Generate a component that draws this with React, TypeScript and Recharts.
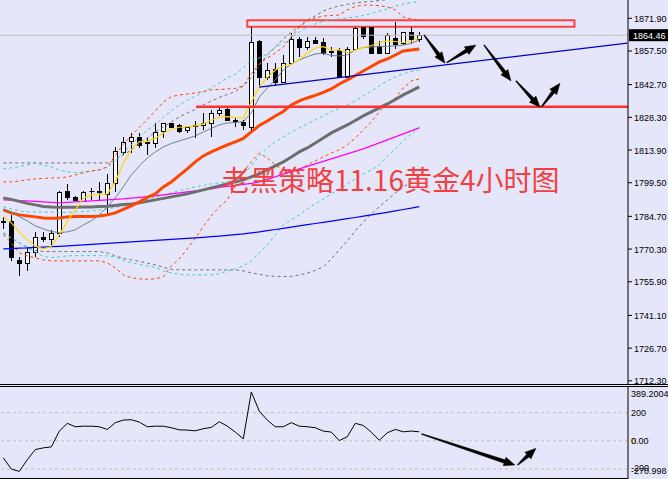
import React from 'react';
import { ComposedChart, Bar, Line, XAxis, YAxis, ReferenceLine, ReferenceArea } from 'recharts';

// ---------- candles (index 0..52), 4-hour gold ----------
const openP = [1782.4, 1782.85, 1765.55, 1764.35, 1769.2, 1775.8, 1774.6, 1777.3, 1796.0, 1793.4, 1791.65, 1795.7, 1795.4, 1794.6, 1799.3, 1813.2, 1818.05, 1819.5, 1817.0, 1816.9, 1822.45, 1825.7, 1824.95, 1822.75, 1824.7, 1824.8, 1826.0, 1830.1, 1831.85, 1827.1, 1826.3, 1824.2, 1862.05, 1846.2, 1849.45, 1844.0, 1852.1, 1862.65, 1859.4, 1862.35, 1861.6, 1857.1, 1857.95, 1845.95, 1858.25, 1867.9, 1868.2, 1859.7, 1856.75, 1863.1, 1860.9, 1865.75, 1862.8];
const highP = [1784.6, 1785.35, 1766.75, 1771.4, 1778.0, 1778.0, 1778.5, 1796.0, 1799.0, 1793.7, 1796.0, 1797.1, 1800.0, 1803.4, 1815.4, 1819.5, 1821.3, 1821.3, 1819.1, 1825.95, 1826.0, 1826.0, 1825.4, 1824.5, 1826.85, 1830.1, 1831.55, 1832.7, 1832.3, 1827.9, 1827.15, 1868.2, 1862.35, 1852.1, 1852.1, 1855.75, 1865.3, 1863.8, 1863.8, 1863.5, 1863.1, 1859.4, 1858.7, 1859.4, 1867.9, 1868.2, 1868.2, 1862.05, 1865.3, 1870.4, 1866.0, 1868.2, 1866.0];
const lowP = [1779.0, 1765.25, 1758.5, 1760.8, 1767.0, 1773.6, 1771.4, 1775.8, 1791.95, 1791.65, 1791.2, 1791.95, 1791.95, 1785.3, 1795.6, 1811.75, 1812.75, 1814.7, 1811.75, 1814.7, 1819.1, 1823.5, 1821.55, 1821.3, 1819.1, 1822.75, 1819.8, 1828.9, 1826.85, 1823.95, 1822.75, 1822.75, 1841.55, 1844.75, 1842.1, 1843.3, 1851.35, 1854.75, 1857.95, 1860.9, 1855.75, 1854.75, 1845.5, 1845.5, 1857.95, 1862.65, 1856.5, 1856.5, 1856.2, 1858.25, 1860.15, 1861.15, 1861.6];
const closeP = [1782.6, 1766.75, 1764.35, 1769.2, 1775.5, 1774.6, 1777.3, 1795.6, 1793.1, 1791.95, 1795.3, 1795.9, 1796.0, 1799.3, 1813.65, 1817.6, 1819.5, 1816.15, 1817.3, 1822.0, 1825.7, 1823.95, 1822.45, 1823.95, 1824.9, 1826.0, 1830.1, 1831.55, 1827.15, 1826.7, 1824.8, 1861.35, 1846.2, 1849.15, 1844.0, 1852.1, 1862.65, 1859.4, 1862.05, 1861.15, 1856.5, 1857.65, 1845.95, 1858.25, 1867.5, 1864.1, 1856.75, 1856.5, 1864.55, 1860.6, 1865.75, 1862.65, 1864.45];

// ---------- moving averages ----------
const maYellow = [1784.6, 1781.83, 1777.9, 1774.35, 1771.71, 1770.26, 1771.4, 1776.55, 1782.4, 1787.55, 1792.7, 1794.15, 1794.28, 1794.59, 1800.0, 1808.1, 1813.95, 1817.6, 1817.6, 1819.1, 1821.3, 1823.06, 1823.94, 1824.2, 1824.51, 1825.39, 1827.15, 1828.34, 1828.6, 1828.34, 1827.9, 1835.07, 1841.67, 1845.85, 1849.15, 1850.91, 1851.57, 1853.77, 1856.63, 1858.83, 1859.4, 1857.95, 1857.95, 1856.85, 1857.95, 1858.96, 1859.93, 1861.03, 1861.91, 1861.69, 1861.25, 1861.91, 1863.1];
const maSlate = [1787.99, 1786.67, 1784.47, 1782.71, 1780.51, 1779.19, 1778.0, 1777.56, 1777.87, 1778.75, 1780.95, 1782.71, 1785.35, 1788.87, 1792.83, 1797.67, 1802.95, 1806.91, 1810.43, 1813.07, 1815.27, 1816.81, 1817.91, 1819.01, 1820.11, 1821.87, 1823.41, 1824.95, 1825.83, 1826.05, 1826.4, 1830.23, 1837.27, 1841.23, 1844.75, 1849.15, 1851.79, 1853.55, 1855.0, 1856.19, 1856.5, 1855.53, 1855.31, 1855.75, 1857.95, 1859.05, 1859.27, 1859.4, 1859.58, 1859.71, 1860.15, 1860.81, 1862.35];
const maOrange = [1787.55, 1786.23, 1785.35, 1784.91, 1784.47, 1784.03, 1783.9, 1784.03, 1784.47, 1784.6, 1784.6, 1784.69, 1784.91, 1785.35, 1786.23, 1787.77, 1789.31, 1791.07, 1793.05, 1794.59, 1797.67, 1799.87, 1802.73, 1805.59, 1808.67, 1811.31, 1813.07, 1814.61, 1816.15, 1817.47, 1819.01, 1821.87, 1824.73, 1826.71, 1828.91, 1830.89, 1833.75, 1835.51, 1836.83, 1837.93, 1839.25, 1840.79, 1842.99, 1844.75, 1846.73, 1848.71, 1850.69, 1852.67, 1853.99, 1855.75, 1857.51, 1857.95, 1858.39];
const maDimgray = [1792.83, 1792.17, 1791.29, 1790.41, 1789.75, 1789.09, 1788.87, 1788.74, 1788.74, 1788.74, 1788.87, 1788.87, 1789.0, 1789.18, 1789.53, 1789.88, 1790.19, 1790.63, 1791.29, 1791.95, 1792.61, 1793.27, 1793.93, 1794.59, 1795.47, 1796.35, 1797.23, 1798.11, 1798.99, 1799.87, 1800.75, 1802.07, 1803.39, 1805.15, 1806.91, 1808.67, 1810.87, 1813.07, 1814.83, 1817.03, 1819.23, 1821.43, 1823.19, 1824.95, 1826.93, 1828.91, 1830.67, 1832.43, 1834.19, 1836.17, 1838.15, 1839.91, 1841.67];
const maMagenta = [1791.95, 1791.82, 1791.64, 1791.51, 1791.29, 1791.07, 1790.85, 1790.63, 1790.85, 1791.07, 1791.29, 1791.51, 1791.73, 1791.95, 1792.17, 1792.39, 1792.7, 1793.05, 1793.4, 1793.71, 1794.15, 1794.59, 1795.03, 1795.47, 1795.91, 1796.35, 1796.79, 1797.45, 1797.89, 1798.33, 1798.77, 1799.21, 1799.87, 1800.97, 1802.07, 1803.39, 1804.49, 1805.59, 1806.69, 1807.79, 1808.89, 1809.99, 1811.09, 1812.19, 1813.29, 1814.39, 1815.71, 1817.03, 1818.35, 1819.67, 1820.99, 1822.31, 1823.63];
const maBlue = [1770.39, 1770.52, 1770.7, 1770.83, 1771.05, 1771.18, 1771.36, 1771.53, 1771.71, 1771.93, 1772.15, 1772.37, 1772.59, 1772.81, 1773.03, 1773.25, 1773.47, 1773.69, 1773.91, 1774.13, 1774.35, 1774.57, 1774.79, 1775.01, 1775.23, 1775.49, 1775.76, 1776.02, 1776.33, 1776.68, 1776.99, 1777.43, 1777.87, 1778.4, 1778.93, 1779.45, 1779.98, 1780.51, 1781.04, 1781.57, 1782.09, 1782.62, 1783.15, 1783.68, 1784.21, 1784.78, 1785.35, 1785.92, 1786.49, 1787.11, 1787.73, 1788.34, 1788.96];

// ---------- band envelopes (dotted) ----------
const bandOrangeUp = [1799.87, 1799.87, 1800.31, 1800.75, 1801.19, 1801.41, 1801.63, 1801.63, 1802.07, 1802.95, 1803.83, 1804.71, 1805.15, 1806.47, 1811.53, 1816.37, 1820.33, 1823.85, 1827.37, 1831.11, 1835.07, 1837.4, 1838.15, 1838.59, 1839.03, 1839.69, 1840.35, 1840.57, 1840.79, 1841.01, 1842.11, 1847.39, 1851.79, 1854.43, 1856.63, 1859.27, 1863.67, 1868.07, 1870.71, 1872.03, 1872.91, 1873.13, 1873.35, 1875.55, 1877.09, 1877.75, 1877.66, 1877.44, 1876.87, 1875.55, 1872.47, 1871.59, 1871.15];
const bandOrangeLow = [1776.55, 1773.03, 1768.63, 1767.31, 1766.43, 1765.55, 1765.11, 1765.11, 1765.11, 1765.11, 1765.11, 1765.11, 1765.11, 1764.23, 1762.03, 1758.95, 1757.63, 1757.19, 1756.97, 1757.19, 1758.07, 1762.91, 1765.99, 1770.39, 1775.23, 1780.2, 1784.91, 1788.87, 1791.95, 1798.11, 1804.27, 1808.67, 1812.63, 1810.43, 1807.35, 1805.15, 1804.27, 1805.15, 1807.35, 1809.11, 1810.87, 1812.63, 1813.95, 1816.15, 1819.23, 1822.75, 1826.27, 1830.67, 1834.19, 1836.83, 1841.23, 1844.31, 1845.19];
const bandCyanUp = [1805.59, 1806.03, 1806.6, 1807.35, 1808.01, 1807.35, 1806.47, 1805.15, 1804.27, 1803.96, 1804.27, 1804.71, 1805.15, 1806.47, 1809.11, 1813.07, 1816.15, 1819.67, 1822.75, 1824.95, 1828.47, 1831.11, 1833.75, 1835.95, 1837.49, 1839.47, 1841.23, 1843.43, 1845.63, 1847.17, 1850.03, 1853.55, 1854.43, 1856.19, 1859.27, 1861.03, 1863.23, 1865.87, 1868.07, 1869.39, 1870.49, 1871.15, 1871.59, 1872.03, 1872.47, 1873.13, 1874.01, 1875.11, 1875.99, 1877.31, 1878.19, 1878.85, 1879.29];
const bandCyanMid = [1788.87, 1787.99, 1787.11, 1786.67, 1786.67, 1786.67, 1786.54, 1786.45, 1786.45, 1786.67, 1786.89, 1787.11, 1787.55, 1787.99, 1788.65, 1789.31, 1790.19, 1791.07, 1792.17, 1793.27, 1794.15, 1795.03, 1795.91, 1796.79, 1797.67, 1798.33, 1798.99, 1799.43, 1799.87, 1801.19, 1803.39, 1806.91, 1811.31, 1814.83, 1817.47, 1819.67, 1821.87, 1823.63, 1825.39, 1827.15, 1828.91, 1830.67, 1832.21, 1833.75, 1835.51, 1837.71, 1839.91, 1842.11, 1844.31, 1846.07, 1847.39, 1848.49, 1849.15];
const bandCyanLow = [1776.99, 1775.23, 1773.03, 1771.27, 1769.07, 1767.0, 1766.56, 1766.87, 1767.31, 1767.44, 1767.44, 1767.44, 1767.44, 1767.31, 1766.87, 1765.33, 1764.23, 1763.57, 1762.91, 1762.25, 1760.71, 1759.83, 1759.17, 1758.95, 1758.95, 1758.95, 1758.95, 1759.39, 1760.71, 1761.59, 1762.91, 1765.11, 1768.63, 1772.15, 1776.55, 1780.95, 1783.15, 1785.35, 1787.99, 1790.19, 1792.39, 1794.59, 1796.79, 1798.99, 1801.19, 1803.39, 1805.15, 1807.35, 1811.31, 1814.39, 1817.91, 1820.99, 1824.07];
const bandGrayUp = [1808.23, 1808.23, 1808.23, 1808.23, 1808.23, 1808.23, 1808.23, 1808.23, 1808.23, 1808.23, 1808.23, 1808.23, 1808.23, 1808.23, 1809.55, 1811.75, 1813.95, 1816.59, 1819.23, 1821.87, 1824.07, 1826.27, 1828.47, 1830.23, 1831.77, 1833.75, 1835.51, 1837.05, 1838.37, 1839.69, 1842.11, 1845.63, 1851.35, 1855.75, 1859.27, 1862.79, 1865.87, 1868.51, 1871.15, 1872.91, 1875.11, 1876.43, 1877.31, 1878.06, 1878.63, 1879.07, 1879.29, 1879.73, 1880.17, 1880.61, 1881.05, 1881.49, 1881.93];
const bandGrayLow = [1777.43, 1775.23, 1773.03, 1770.83, 1769.73, 1769.2, 1769.2, 1769.2, 1769.2, 1769.2, 1769.2, 1769.2, 1769.2, 1768.63, 1767.31, 1766.21, 1765.55, 1764.89, 1764.1, 1763.35, 1762.25, 1761.37, 1761.15, 1761.15, 1761.15, 1761.15, 1761.15, 1761.15, 1761.15, 1761.15, 1760.71, 1759.83, 1759.17, 1758.51, 1758.29, 1758.2, 1758.29, 1758.95, 1759.7, 1760.93, 1762.47, 1765.99, 1769.95, 1773.91, 1778.31, 1782.27, 1785.79, 1788.87, 1791.95, 1795.03, 1797.67, 1799.87, 1802.51];

// ---------- CCI sub-window ----------
const cci = [-121, -200, -217, -134, -62, -50, -43, 69, 124, 100, 104, 104, 100, 81, 129, 147, 150, 133, 100, 104, 104, 93, 78, 76, 71, 86, 95, 136, 104, 62, 14, 347, 211, 147, 100, 100, 129, 104, 100, 93, 69, 62, 2, 29, 124, 109, 62, 4, 57, 81, 64, 69, 64];

// ---------- axes / annotations ----------
const priceTicks = [1871.9, 1857.5, 1842.7, 1828.3, 1813.9, 1799.5, 1784.7, 1770.3, 1755.9, 1741.1, 1726.7, 1712.3];
const cciTicks = [389.2004, 200, 0, -200, -270.998];
const cciGrid = [200, 0, -200];
const priceDomain = [1710.9, 1879.95];
const cciDomain = [-270.998, 389.2004];
const slotCount = 79;
const xDomain = [-0.4125, 78.0875];
const currentPrice = 1864.46;
const resistanceBox = { x1: 30.5, x2: 71.4, y1: 1868.2, y2: 1871.0 };
const supportLine = { from: 24.1, price: 1833.0 };
const trendLine = [{ x: 32, y: 1841.55 }, { x: 78, y: 1861.0 }];
const priceArrows = [
  [52.59, 1864.55, 55.21, 1852.1],
  [55.43, 1852.36, 59.09, 1860.15],
  [60.09, 1860.15, 63.46, 1844.31],
  [64.09, 1844.31, 67.09, 1832.74],
  [67.3, 1833.0, 69.59, 1843.3],
];
const cciArrows = [
  [52.3, 48.5, 63.96, -171.5],
  [64.29, -171.5, 66.59, -52.9],
];
const title = '老黑策略11.16黄金4小时图';

const rows = Array.from({ length: slotCount }, (_, i) => {
  const has = i < openP.length;
  return {
    i,
    open: has ? openP[i] : null,
    high: has ? highP[i] : null,
    low: has ? lowP[i] : null,
    close: has ? closeP[i] : null,
    range: has ? [lowP[i], highP[i]] : null,
    yel: has ? maYellow[i] : null,
    sla: has ? maSlate[i] : null,
    ora: has ? maOrange[i] : null,
    dim: has ? maDimgray[i] : null,
    mag: has ? maMagenta[i] : null,
    blu: has ? maBlue[i] : null,
    ou: has ? bandOrangeUp[i] : null,
    ol: has ? bandOrangeLow[i] : null,
    cu: has ? bandCyanUp[i] : null,
    cm: has ? bandCyanMid[i] : null,
    cl: has ? bandCyanLow[i] : null,
    gu: has ? bandGrayUp[i] : null,
    gl: has ? bandGrayLow[i] : null,
    cci: has ? cci[i] : null,
  };
});

const FONT = '"Liberation Sans", Arial, sans-serif';
const BG = '#E6E6FA';

const Candle = (props: any) => {
  const { x, y, width, height, payload } = props;
  if (!payload || payload.open == null || !isFinite(y) || !isFinite(height)) return <g />;
  const { open, close, high, low } = payload;
  const ppu = height / (high - low || 1);
  const yOf = (v: number) => y + (high - v) * ppu;
  const cx = Math.floor(x + width / 2) + 0.5;
  const top = Math.round(yOf(Math.max(open, close))) + 0.5;
  const bot = Math.round(yOf(Math.min(open, close))) + 0.5;
  const bull = close >= open;
  return (
    <g>
      <line x1={cx} x2={cx} y1={Math.round(y)} y2={Math.round(y + height)} stroke="#000" strokeWidth={1} />
      {bot - top < 1 ? (
        <line x1={cx - 2} x2={cx + 3} y1={top} y2={top} stroke="#000" strokeWidth={1} />
      ) : (
        <rect x={cx - 2} y={top} width={4} height={bot - top} fill={bull ? '#FFFFFF' : '#000000'} stroke="#000" strokeWidth={1} />
      )}
    </g>
  );
};

const ArrowShape = (props: any) => {
  const { x1, y1, x2, y2 } = props;
  if (![x1, y1, x2, y2].every((v) => isFinite(v))) return <g />;
  const dx = x2 - x1, dy = y2 - y1;
  const len = Math.hypot(dx, dy) || 1;
  const ux = dx / len, uy = dy / len, nx = -uy, ny = ux;
  const headLen = Math.min(11, len * 0.45);
  const headW = 4.5, neckW = 1.8, tailW = 0.5;
  const bx = x2 - ux * headLen, by = y2 - uy * headLen;
  const pts = [
    [x1 + nx * tailW, y1 + ny * tailW],
    [bx + nx * neckW, by + ny * neckW],
    [bx + nx * headW, by + ny * headW],
    [x2, y2],
    [bx - nx * headW, by - ny * headW],
    [bx - nx * neckW, by - ny * neckW],
    [x1 - nx * tailW, y1 - ny * tailW],
  ];
  return <polygon points={pts.map((p) => p.join(',')).join(' ')} fill="#000" stroke="#000" strokeWidth={0.4} />;
};

const PriceTick = (props: any) => {
  const { x, y, payload } = props;
  return (
    <text x={x} y={y + 3.5} fontSize={9} fontFamily={FONT} fill="#000">
      {Number(payload.value).toFixed(2)}
    </text>
  );
};

const CciTick = (props: any) => {
  const { x, y, payload } = props;
  const v = payload.value;
  let label = String(v);
  let dy = 3.5;
  if (v === 389.2004) { label = '389.2004'; dy = 11; }
  else if (v === 200) { label = '200'; }
  else if (v === 0) { label = '0.00'; }
  else if (v === -200) { label = '-200'; dy = 2; }
  else if (v === -270.998) { label = '-270.998'; dy = -5; }
  return (
    <g>
      {v === 0 && (
        <text x={x + 0.6} y={y + dy} fontSize={9} fontFamily={FONT} fill="#B8860B">0</text>
      )}
      <text x={x} y={y + dy} fontSize={9} fontFamily={FONT} fill="#000">{label}</text>
    </g>
  );
};

const PriceTag = (props: any) => {
  const vb = props.viewBox || {};
  const right = (vb.x || 0) + (vb.width || 0);
  const cy = vb.y || 0;
  return (
    <g>
      <rect x={right + 1} y={cy - 6} width={40} height={12} fill="#000" />
      <text x={right + 5} y={cy + 3.5} fontSize={9} fontFamily={FONT} fill="#fff">{currentPrice.toFixed(2)}</text>
    </g>
  );
};

const lineSpecs = [
  { key: 'gu', color: '#707070', w: 1, dash: '3 3' },
  { key: 'gl', color: '#707070', w: 1, dash: '3 3' },
  { key: 'cu', color: '#3CCFC8', w: 1, dash: '3 3' },
  { key: 'cm', color: '#3CCFC8', w: 1, dash: '3 3' },
  { key: 'cl', color: '#3CCFC8', w: 1, dash: '3 3' },
  { key: 'ou', color: '#FF4500', w: 1, dash: '3 3' },
  { key: 'ol', color: '#FF4500', w: 1, dash: '3 3' },
  { key: 'blu', color: '#0000FF', w: 1.2, dash: undefined },
  { key: 'mag', color: '#FF00FF', w: 1.2, dash: undefined },
  { key: 'dim', color: '#6E6E6E', w: 3, dash: undefined },
  { key: 'ora', color: '#FF4500', w: 3, dash: undefined },
  { key: 'sla', color: '#708090', w: 1, dash: undefined },
  { key: 'yel', color: '#FFD700', w: 1.2, dash: undefined },
];

export default function App() {
  return (
    <div style={{ position: 'absolute', left: 0, top: 0, width: 668, height: 479, background: BG, overflow: 'hidden' }}>
      <div style={{ position: 'absolute', left: 0, top: 0 }}>
        <ComposedChart width={668} height={388} data={rows} margin={{ top: 0, right: 0, bottom: 4, left: 0 }}>
          <XAxis xAxisId="cat" dataKey="i" type="category" hide padding={{ left: -0.7, right: -3.3 }} />
          <XAxis xAxisId="num" dataKey="i" type="number" domain={xDomain} allowDataOverflow hide />
          <YAxis
            yAxisId="p"
            orientation="right"
            width={40}
            domain={priceDomain}
            allowDataOverflow
            ticks={priceTicks}
            interval={0}
            tickSize={4}
            tickMargin={2}
            axisLine={{ stroke: '#000' }}
            tickLine={{ stroke: '#000' }}
            tick={<PriceTick />}
          />
          <ReferenceLine xAxisId="num" yAxisId="p" y={currentPrice} stroke="#C0C0C0" strokeWidth={1} ifOverflow="visible" label={<PriceTag />} />
          <ReferenceArea xAxisId="num" yAxisId="p" x1={resistanceBox.x1} x2={resistanceBox.x2} y1={resistanceBox.y1} y2={resistanceBox.y2} fill={BG} fillOpacity={0} stroke="#FF4040" strokeWidth={2} ifOverflow="visible" />
          <Bar xAxisId="cat" yAxisId="p" dataKey="range" isAnimationActive={false} shape={(p: any) => <Candle {...p} />} />
          {lineSpecs.map((s) => (
            <Line
              key={s.key}
              xAxisId="num"
              yAxisId="p"
              dataKey={s.key}
              type="linear"
              stroke={s.color}
              strokeWidth={s.w}
              strokeDasharray={s.dash}
              dot={false}
              activeDot={false}
              isAnimationActive={false}
            />
          ))}
          <ReferenceLine xAxisId="num" yAxisId="p" segment={trendLine} stroke="#0000CD" strokeWidth={1.3} ifOverflow="visible" />
          <ReferenceLine
            xAxisId="num"
            yAxisId="p"
            segment={[{ x: supportLine.from, y: supportLine.price }, { x: xDomain[1], y: supportLine.price }]}
            stroke="#FF3030"
            strokeWidth={2.5}
            ifOverflow="visible"
          />
          {priceArrows.map((a, idx) => (
            <ReferenceLine
              key={'pa' + idx}
              xAxisId="num"
              yAxisId="p"
              segment={[{ x: a[0], y: a[1] }, { x: a[2], y: a[3] }]}
              ifOverflow="visible"
              shape={(p: any) => <ArrowShape {...p} />}
            />
          ))}
        </ComposedChart>
      </div>
      <div style={{ position: 'absolute', left: 0, top: 386 }}>
        <ComposedChart width={668} height={93} data={rows} margin={{ top: 0, right: 0, bottom: 0, left: 0 }}>
          <XAxis xAxisId="num" dataKey="i" type="number" domain={xDomain} allowDataOverflow hide />
          <YAxis
            yAxisId="c"
            orientation="right"
            width={40}
            domain={cciDomain}
            allowDataOverflow
            ticks={cciTicks}
            interval={0}
            tickSize={0}
            tickMargin={3}
            axisLine={{ stroke: '#000' }}
            tickLine={false}
            tick={<CciTick />}
          />
          {cciGrid.map((g) => (
            <ReferenceLine key={'g' + g} xAxisId="num" yAxisId="c" y={g} stroke="#C0C0C0" strokeDasharray="3 3" />
          ))}
          <Line xAxisId="num" yAxisId="c" dataKey="cci" type="linear" stroke="#000" strokeWidth={1} dot={false} activeDot={false} isAnimationActive={false} />
          {cciArrows.map((a, idx) => (
            <ReferenceLine
              key={'ca' + idx}
              xAxisId="num"
              yAxisId="c"
              segment={[{ x: a[0], y: a[1] }, { x: a[2], y: a[3] }]}
              ifOverflow="visible"
              shape={(p: any) => <ArrowShape {...p} />}
            />
          ))}
        </ComposedChart>
      </div>
      <svg width={668} height={479} style={{ position: 'absolute', left: 0, top: 0, pointerEvents: 'none' }}>
        <line x1={0} x2={668} y1={384.5} y2={384.5} stroke="#000" strokeWidth={1} />
        <line x1={0} x2={668} y1={386.5} y2={386.5} stroke="#000" strokeWidth={1} />
        <line x1={0} x2={628} y1={478.5} y2={478.5} stroke="#000" strokeWidth={1} />
        <text x={222} y={190.5} fontSize={28} fontFamily='"Noto Sans CJK SC", sans-serif' fill="#F23F3F">{title}</text>
      </svg>
    </div>
  );
}
